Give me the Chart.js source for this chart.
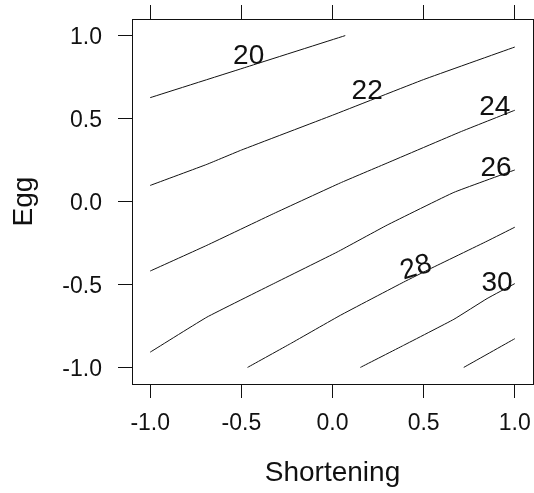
<!DOCTYPE html>
<html><head><meta charset="utf-8">
<script src="https://cdn.jsdelivr.net/npm/chart.js@4/dist/chart.umd.min.js"></script>
<style>html,body{margin:0;padding:0;background:#fff;}#wrap{width:534px;height:493px;}</style>
</head><body><div id="wrap"><canvas id="c" width="534" height="493"></canvas></div>
<script>
// Axis ticks
const xTicks = [-1.0, -0.5, 0.0, 0.5, 1.0];
const yTicks = [-1.0, -0.5, 0.0, 0.5, 1.0];
const xTitle = 'Shortening';
const yTitle = 'Egg';

// Contour levels and traced contour paths (Shortening, Egg)
const levels = [20, 22, 24, 26, 28, 30, 32];
const c20x = [-1.0, -0.47, 0.07];
const c20y = [0.626, 0.811, 1.0];
const c22x = [-1.0, -0.689, -0.5, 0.0, 0.5, 1.0];
const c22y = [0.097, 0.224, 0.31, 0.52, 0.735, 0.931];
const c24x = [-1.0, -0.689, -0.323, 0.043, 0.30, 0.70, 1.0];
const c24y = [-0.419, -0.264, -0.073, 0.112, 0.232, 0.419, 0.55];
const c26x = [-1.0, -0.689, -0.323, 0.025, 0.30, 0.666, 1.0];
const c26y = [-0.908, -0.697, -0.495, -0.305, -0.142, 0.055, 0.19];
const c28x = [-0.466, -0.231, 0.043, 0.39, 0.537, 0.848, 1.0];
const c28y = [-1.0, -0.857, -0.686, -0.486, -0.405, -0.239, -0.155];
const c30x = [0.153, 0.39, 0.666, 0.848, 1.0];
const c30y = [-1.0, -0.867, -0.71, -0.585, -0.495];
const c32x = [0.72, 1.0];
const c32y = [-1.0, -0.827];

// Contour labels
const labelText = ['20', '22', '24', '26', '28', '30'];
const labelX = [-0.46, 0.19, 0.89, 0.897, 0.459, 0.903];
const labelY = [0.876, 0.667, 0.566, 0.202, -0.40, -0.49];
const labelAngle = [0, 0, 0, 0, -17, 0];

const paths = [[c20x,c20y],[c22x,c22y],[c24x,c24y],[c26x,c26y],[c28x,c28y],[c30x,c30y],[c32x,c32y]];
const datasets = paths.map((p, k) => ({
  label: String(levels[k]),
  data: p[0].map((x, i) => ({x: x, y: p[1][i]})),
  showLine: true, pointRadius: 0, borderColor: '#111', borderWidth: 1, tension: 0.1, fill: false
}));

const FONT = "'Liberation Sans', Arial, sans-serif";
const setTicks = vals => s => { s.ticks = vals.map(v => ({value: v})); };
const fitTo = (prop, size) => s => {
  s[prop] = size;
  s.paddingTop = 0; s.paddingBottom = 0; s.paddingLeft = 0; s.paddingRight = 0;
};

const labelPlugin = {
  id: 'contourLabels',
  afterDatasetsDraw(chart) {
    const ctx = chart.ctx, sx = chart.scales.x, sy = chart.scales.y;
    ctx.save();
    ctx.font = '28px ' + FONT;
    ctx.fillStyle = '#111';
    ctx.textAlign = 'center';
    ctx.textBaseline = 'middle';
    labelText.forEach((t, i) => {
      ctx.save();
      ctx.translate(sx.getPixelForValue(labelX[i]), sy.getPixelForValue(labelY[i]));
      ctx.rotate(labelAngle[i] * Math.PI / 180);
      ctx.fillText(t, 0, 0);
      ctx.restore();
    });
    ctx.restore();
  }
};

new Chart(document.getElementById('c'), {
  type: 'scatter',
  data: {datasets},
  options: {
    responsive: false, animation: false, devicePixelRatio: 1,
    layout: {padding: 0},
    plugins: {legend: {display: false}, tooltip: {enabled: false}},
    scales: {
      x: {
        type: 'linear', position: 'bottom', min: -1.1, max: 1.1,
        afterBuildTicks: setTicks(xTicks),
        afterFit: fitTo('height', 109),
        ticks: {callback: v => Number(v).toFixed(1), font: {family: FONT, size: 23}, color: '#111', padding: 12, maxRotation: 0, autoSkip: false},
        grid: {drawOnChartArea: false, drawTicks: true, tickLength: 14, color: '#111', lineWidth: 1},
        border: {display: true, color: '#111', width: 1},
        title: {display: true, text: xTitle, font: {family: FONT, size: 28}, color: '#111', padding: {top: 0, bottom: 3}}
      },
      x2: {
        type: 'linear', position: 'top', min: -1.1, max: 1.1,
        afterBuildTicks: setTicks(xTicks),
        afterFit: fitTo('height', 19),
        ticks: {display: false},
        grid: {drawOnChartArea: false, drawTicks: true, tickLength: 14, color: '#111', lineWidth: 1},
        border: {display: true, color: '#111', width: 1}
      },
      y: {
        type: 'linear', position: 'left', min: -1.1, max: 1.1,
        afterBuildTicks: setTicks(yTicks),
        afterFit: fitTo('width', 132),
        ticks: {callback: v => Number(v).toFixed(1), font: {family: FONT, size: 23}, color: '#111', padding: 16, labelOffset: 2, autoSkip: false},
        grid: {drawOnChartArea: false, drawTicks: true, tickLength: 14, color: '#111', lineWidth: 1},
        border: {display: true, color: '#111', width: 1},
        title: {display: true, text: yTitle, font: {family: FONT, size: 28}, color: '#111', padding: {top: 7, bottom: 0}}
      },
      y2: {
        type: 'linear', position: 'right', min: -1.1, max: 1.1,
        afterBuildTicks: setTicks(yTicks),
        afterFit: fitTo('width', 1),
        ticks: {display: false},
        grid: {drawOnChartArea: false, drawTicks: true, tickLength: 14, color: '#111', lineWidth: 1},
        border: {display: true, color: '#111', width: 1}
      }
    }
  },
  plugins: [labelPlugin]
});
</script>
</body></html>
